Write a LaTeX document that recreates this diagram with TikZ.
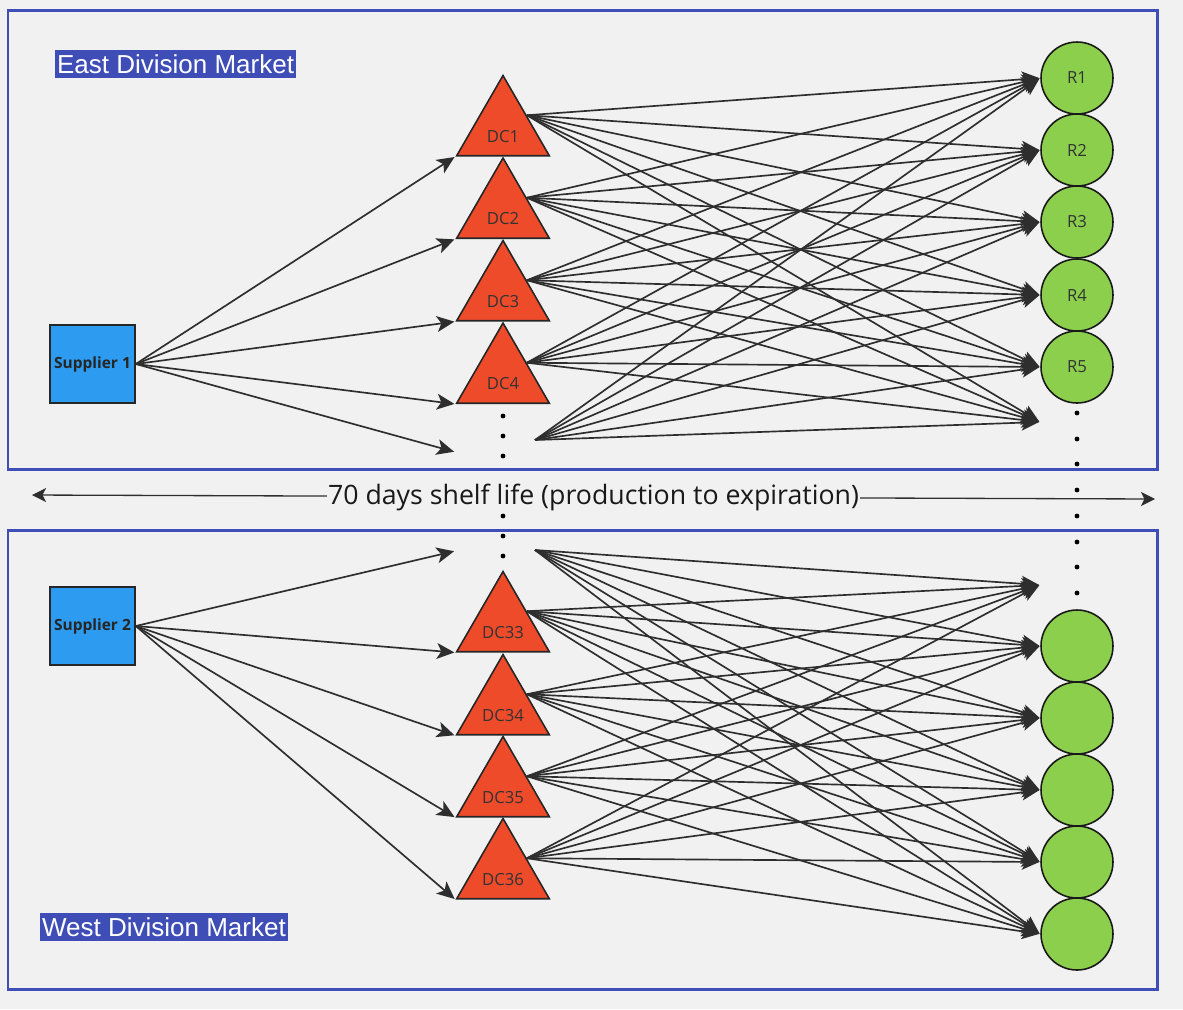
\documentclass[tikz,border=0pt]{standalone}
\usepackage{fontspec}
\setmainfont{Open Sans}
\newfontfamily\arialfont{Liberation Sans}
\usetikzlibrary{shapes.geometric,arrows.meta}

\definecolor{bgcol}{HTML}{F1F1F1}
\definecolor{framecol}{HTML}{3F4EB6}
\definecolor{supcol}{HTML}{2C9BF0}
\definecolor{dccol}{HTML}{EE4B2B}
\definecolor{rcol}{HTML}{8BCF4D}
\definecolor{linecol}{HTML}{2E2E2E}

\newcommand{\dclab}[1]{\makebox[0pt]{#1}}

\tikzset{
  frame/.style={draw=framecol,line width=1.7pt},
  market/.style={fill=framecol,text=white,font=\arialfont\fontsize{14.8}{14.8}\selectfont,inner xsep=1pt,inner ysep=2.5pt,anchor=west},
  supplier/.style={draw=black!85,line width=0.9pt,fill=supcol,minimum width=1.7cm,minimum height=1.56cm,inner sep=0pt,font=\bfseries\fontsize{8.8}{8.8}\selectfont,text=black!85},
  dcnode/.style={regular polygon,regular polygon sides=3,minimum size=2.14cm,draw=black!85,line width=0.9pt,fill=dccol,inner sep=0pt,text height=15pt,text depth=0pt,font=\fontsize{9.5}{9.5}\selectfont,text=black!80},
  retail/.style={circle,draw=black!90,line width=0.9pt,fill=rcol,minimum size=1.44cm,inner sep=0pt,font=\fontsize{9.5}{9.5}\selectfont,text=black!80},
  link/.style={->,draw=linecol,line width=0.95pt,shorten >=0.5pt},
  dotmark/.style={fill=black}
}

\begin{document}
\begin{tikzpicture}[x=0.02cm,y=-0.02cm,>={Stealth[length=10pt,width=9pt,inset=2.5pt]}]
    \fill[bgcol](0,0)rectangle(1183,1009);
    \useasboundingbox(0,0)rectangle(1183,1009);
    % the two markets
    \draw[frame](8,10)rectangle(1157,469);
    \draw[frame](8,530)rectangle(1157,989);
    \node[market](east)at(55,64){East Division Market};
    \node[market](west)at(40,927){West Division Market};
    % suppliers
    \node[supplier](sup1)at(92.5,364){Supplier 1};
    \node[supplier](sup2)at(92.5,626){Supplier 2};
    % distribution centres
    \node[dcnode](dc1)at(503,129){\dclab{DC1}};
    \node[dcnode](dc2)at(503,211.5){\dclab{DC2}};
    \node[dcnode](dc3)at(503,294){\dclab{DC3}};
    \node[dcnode](dc4)at(503,376.5){\dclab{DC4}};
    \node[dcnode](dc33)at(503,625){\dclab{DC33}};
    \node[dcnode](dc34)at(503,708){\dclab{DC34}};
    \node[dcnode](dc35)at(503,790){\dclab{DC35}};
    \node[dcnode](dc36)at(503,872){\dclab{DC36}};
    % retailers
    \node[retail](r1)at(1077,78){R1};
    \node[retail](r2)at(1077,150){R2};
    \node[retail](r3)at(1077,222){R3};
    \node[retail](r4)at(1077,295){R4};
    \node[retail](r5)at(1077,367){R5};
    \foreach \i/\y in {1/646,2/718,3/790,4/862,5/934}
        \node[retail](w\i)at(1077,\y){};
    % open ends
    \coordinate(sx1)at(455,452);
    \coordinate(sx2)at(455,551);
    \coordinate(dcx1)at(535,440);
    \coordinate(dcx2)at(535,550);
    \coordinate(rx1)at(1040,422);
    \coordinate(rx2)at(1040,585);
    % dots
    \foreach \y in {416,436,456,516,536,556}
        \fill[dotmark](503,\y)circle(2.4);
    \foreach \y in {413,439,464,516,542,567,593}
        \fill[dotmark](1077,\y)circle(2.4);
    % supplier links
    \foreach \t in {dc1.corner 2,dc2.corner 2,dc3.corner 2,dc4.corner 2,sx1}
        \draw[link](sup1.east)--(\t);
    \foreach \t in {sx2,dc33.corner 2,dc34.corner 2,dc35.corner 2,dc36.corner 2}
        \draw[link](sup2.east)--(\t);
    % dc to retailer links
    \foreach \s in {dc1.side 3,dc2.side 3,dc3.side 3,dc4.side 3,dcx1}
        \foreach \t in {r1.west,r2.west,r3.west,r4.west,r5.west,rx1}
            \draw[link](\s)--(\t);
    \foreach \s in {dcx2,dc33.side 3,dc34.side 3,dc35.side 3,dc36.side 3}
        \foreach \t in {rx2,w1.west,w2.west,w3.west,w4.west,w5.west}
            \draw[link](\s)--(\t);
    % shelf life
    \coordinate(lifel)at(32,495);
    \coordinate(lifer)at(1155,499);
    \draw[{Stealth[length=8pt,width=8pt,inset=2pt]}-{Stealth[length=8pt,width=8pt,inset=2pt]},draw=linecol,line width=0.75pt](lifel)--node[fill=bgcol,inner sep=0.5pt,font=\fontsize{15.2}{15.2}\selectfont,text=black!90](life){70 days shelf life (production to expiration)}(lifer);
    \fill[dotmark](1077,490)circle(2.4);
\end{tikzpicture}
\end{document}
